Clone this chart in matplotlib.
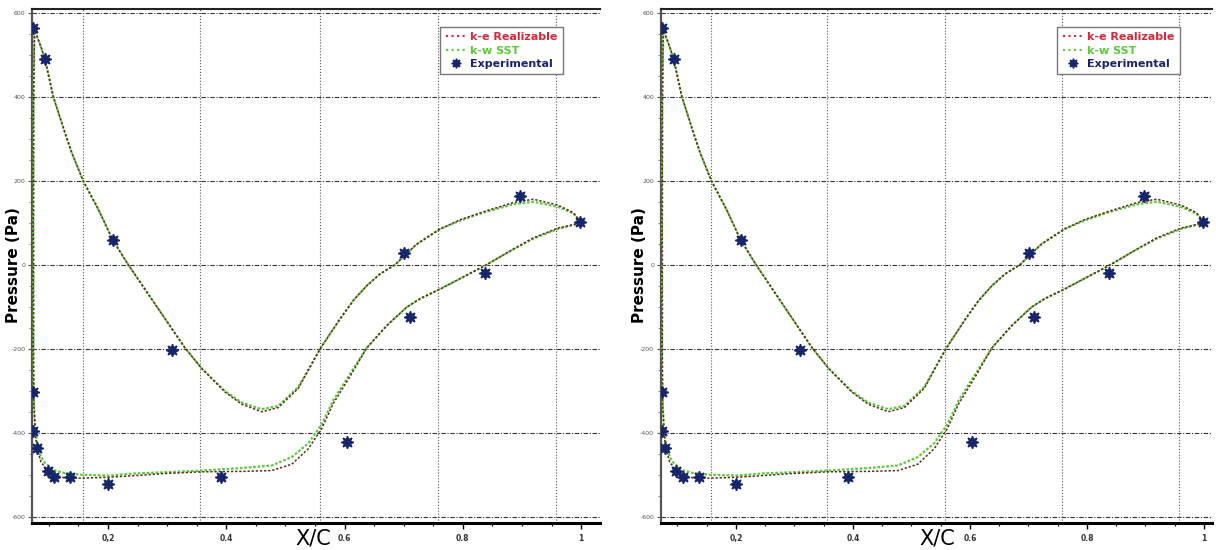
import numpy as np
import matplotlib
matplotlib.use("Agg")
import matplotlib.pyplot as plt
from matplotlib.lines import Line2D
from matplotlib.ticker import MultipleLocator

# x/c positions and pressures
# side A: from stagnation point over the high-pressure side
xa = [0.0757, 0.0782, 0.0850, 0.0934, 0.1075, 0.1273, 0.1386, 0.1582, 0.1836, 0.2080,
      0.2343, 0.2851, 0.3302, 0.3585, 0.3979, 0.4261, 0.4600, 0.4880, 0.5219, 0.5597,
      0.5924, 0.6149, 0.6375, 0.6600, 0.6854, 0.7221, 0.7615, 0.7953, 0.8348, 0.8855,
      0.9193, 0.9606, 0.9870, 0.9983]
ke_a = [565, 550, 525, 490, 400, 314, 267, 199, 132, 59,
        0, -105, -198, -247, -303, -332, -350, -340, -294, -198,
        -129, -85, -50, -22, 0, 49, 85, 107, 126, 148,
        156, 142, 124, 104]
sst_a = [565, 550, 525, 490, 400, 314, 267, 199, 132, 59,
         0, -105, -198, -247, -301, -328, -344, -336, -291, -198,
         -129, -85, -50, -22, 0, 49, 85, 105, 124, 144,
         150, 138, 122, 104]

# side B: from stagnation point over the low-pressure side
xb = [0.0757, 0.0742, 0.0738, 0.0740, 0.0748, 0.0774, 0.0808, 0.0867, 0.0934, 0.1104,
      0.1273, 0.1555, 0.2005, 0.2457, 0.2964, 0.3585, 0.4261, 0.4769, 0.5107, 0.5388,
      0.5614, 0.5811, 0.6093, 0.6375, 0.6714, 0.7052, 0.7277, 0.7615, 0.8376, 0.8855,
      0.9193, 0.9606, 0.9983]
ke_b = [565, 400, 100, -250, -340, -410, -440, -470, -482, -500,
        -508, -508, -506, -502, -497, -493, -492, -490, -475, -438,
        -390, -330, -266, -198, -145, -101, -81, -58, -2, 37,
        64, 87, 99]
sst_b = [565, 400, 100, -250, -330, -400, -430, -458, -472, -490,
         -496, -500, -502, -497, -494, -490, -484, -478, -458, -425,
         -380, -322, -260, -198, -145, -101, -81, -58, -2, 37,
         62, 85, 99]

# experimental points
exp_x = [0.0737, 0.0934, 0.208, 0.309, 0.701, 0.897, 0.998,
         0.0737, 0.0737, 0.0794, 0.098, 0.109, 0.136, 0.200, 0.391, 0.604, 0.710, 0.838]
exp_p = [564, 490, 59, -202, 28, 163, 102,
         -303, -396, -437, -490, -505, -505, -521, -506, -421, -125, -19]

xtick_pos = [0.2, 0.4, 0.6, 0.8, 1.0]
xtick_lab = ["0,2", "0.4", "0.6", "0.8", "1"]
ytick_pos = [-600, -400, -200, 0, 200, 400, 600]
grid_x = [0.157, 0.356, 0.558, 0.758, 0.958]

RED = "#d8263a"
GREEN = "#5cc83c"
NAVY = "#17256b"

fig = plt.figure(figsize=(12.16, 5.5), dpi=100)
rects = [[32.3 / 1216, 0.049, (600 - 32.3) / 1216, 0.934],
         [661.1 / 1216, 0.049, (1212 - 661.1) / 1216, 0.934]]
xlims = [(0.072, 1.032), (0.072, 1.0137)]
ylab_x = [14, 640]
xlab_x = [313, 937]

for rect, xl, yx, xx in zip(rects, xlims, ylab_x, xlab_x):
    ax = fig.add_axes(rect)

    # grid
    for yv in ytick_pos:
        ax.axhline(yv, color="#333333", lw=0.8, ls="-.", dashes=(4, 1.5, 1, 1.5), zorder=1)
    for xv in grid_x:
        ax.axvline(xv, color="#555555", lw=0.8, ls=":", zorder=1)

    # CFD curves
    ax.plot(xa, sst_a, color=GREEN, lw=1.6, ls=(0, (1.2, 0.8)), zorder=3)
    ax.plot(xb, sst_b, color=GREEN, lw=1.6, ls=(0, (1.2, 0.8)), zorder=3)
    ax.plot(xa, ke_a, color="#5a2a1a", lw=1.1, ls=(0, (1.5, 1.2)), zorder=4)
    ax.plot(xb, ke_b, color="#5a2a1a", lw=1.1, ls=(0, (1.5, 1.2)), zorder=4)

    ax.plot(exp_x, exp_p, ls="none", marker=(8, 1, 0), ms=9, color=NAVY,
            mec=NAVY, zorder=5)

    ax.set_xlim(*xl)
    ax.set_ylim(-615, 608)

    ax.set_xticks(xtick_pos)
    ax.set_xticklabels(xtick_lab, fontsize=5.5, fontweight="bold", color="#333333")
    ax.xaxis.set_minor_locator(MultipleLocator(0.05))
    ax.set_yticks(ytick_pos)
    ax.set_yticklabels([str(v) for v in ytick_pos], fontsize=4.5, color="#555555")
    ax.yaxis.set_minor_locator(MultipleLocator(50))
    ax.tick_params(axis="x", which="major", length=4, width=1, pad=4, direction="out")
    ax.tick_params(axis="x", which="minor", length=2.5, width=0.8, direction="out")
    ax.tick_params(axis="y", which="major", length=3, width=0.8, pad=2, color="#555555")
    ax.tick_params(axis="y", which="minor", length=2, width=0.6, color="#777777")

    ax.spines["right"].set_visible(False)
    ax.spines["top"].set_color("#222222")
    ax.spines["top"].set_linewidth(1.5)
    ax.spines["left"].set_color("#555555")
    ax.spines["left"].set_linewidth(1.6)
    ax.spines["bottom"].set_color("black")
    ax.spines["bottom"].set_linewidth(2.2)

    fig.text(yx / 1216, 1 - 265 / 550, "Pressure (Pa)", rotation=90, fontsize=11,
             fontweight="bold", ha="center", va="center")
    fig.text(xx / 1216, 1 - 538 / 550, "X/C", fontsize=15, ha="center", va="center")

    handles = [Line2D([], [], color=RED, lw=1.5, ls=":"),
               Line2D([], [], color=GREEN, lw=1.5, ls=":"),
               Line2D([], [], ls="none", marker=(8, 1, 0), ms=7, color=NAVY)]
    leg = ax.legend(handles, ["k-e Realizable", "k-w SST", "Experimental"],
                    loc="upper left", bbox_to_anchor=(0.709, 0.977),
                    prop={"weight": "bold", "size": 8},
                    fancybox=False, framealpha=1, edgecolor="#777777",
                    handlelength=1.8, handletextpad=0.4, borderpad=0.5,
                    labelspacing=0.3)
    leg.get_frame().set_linewidth(1.0)
    for txt, c in zip(leg.get_texts(), [RED, GREEN, NAVY]):
        txt.set_color(c)
    leg.set_zorder(6)

fig.savefig("out.png", dpi=100)
